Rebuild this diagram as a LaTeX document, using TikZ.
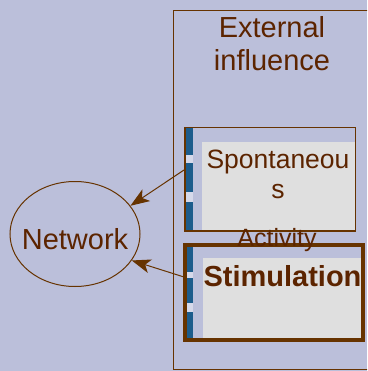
\documentclass[tikz,border=0pt]{standalone}
\usepackage{fontspec}
\setmainfont{Liberation Sans}
\usetikzlibrary{arrows.meta,shapes.geometric}
\definecolor{bg}{RGB}{187,191,218}
\definecolor{brn}{RGB}{102,51,0}
\definecolor{txt}{RGB}{92,36,0}
\definecolor{panel}{RGB}{223,223,223}
\definecolor{stripblue}{RGB}{28,92,140}
\definecolor{gapc}{RGB}{214,217,234}
\begin{document}
\begin{tikzpicture}[x=1pt,y=-1pt,
  lbl/.style={text=txt, inner sep=0pt, outer sep=0pt},
  boxframe/.style={draw=brn, inner sep=0pt, outer sep=0pt, anchor=north west},
  arr/.style={draw=brn, line width=1pt, -{Stealth[length=19pt,width=14pt,inset=5pt]}},
  seg/.style={fill=stripblue, draw=none},
  gapfill/.style={fill=gapc, draw=none},
  panelfill/.style={fill=panel, draw=none}]
\fill[bg] (0,0) rectangle (367,371);
\useasboundingbox (0,0) rectangle (367,371);
\clip (0,0) rectangle (367,371);
% outer frame
\node[boxframe, line width=1.3pt, minimum width=240pt, minimum height=359pt] (frame) at (173.6,10.6) {};
% Spontaneous box
\fill[panelfill] (202,142) rectangle (355,231);
\fill[gapfill] (185.3,128) rectangle (192.7,231);
\fill[seg] (185.3,128) rectangle (192.7,155);
\fill[seg] (185.3,163) rectangle (192.7,192);
\fill[seg] (185.3,202) rectangle (192.7,230.5);
\node[boxframe, line width=1.5pt, minimum width=170.6pt, minimum height=103.6pt] (spont) at (184.8,127.6) {};
% Stimulation box
\fill[panelfill] (202.7,258) rectangle (363,339);
\fill[gapfill] (186.7,247) rectangle (192.7,339);
\fill[seg] (186.7,247) rectangle (192.7,272);
\fill[seg] (186.7,278) rectangle (192.7,303);
\fill[seg] (186.7,312) rectangle (192.7,338.5);
\node[boxframe, line width=3.6pt, minimum width=178.4pt, minimum height=95.4pt] (stim) at (184.8,244.8) {};
% Network
\node[draw=brn, line width=1pt, ellipse, minimum width=130pt, minimum height=105pt, inner sep=0pt] (net) at (75,234) {};
\node[lbl, anchor=base, font=\fontsize{29}{33}\selectfont] (nettext) at (75,249) {Network};
% texts
\node[lbl, align=center, font=\fontsize{29}{33}\selectfont] (ext) at (272,43.5) {External\\influence};
\node[lbl, align=center, font=\fontsize{26.5}{30}\selectfont] (sptext) at (278,174) {Spontaneou\\s};
\node[lbl, anchor=base, font=\fontsize{25}{30}\selectfont] (act) at (277,246.7) {Activity};
\node[lbl, anchor=base, font=\bfseries\fontsize{29}{33}\selectfont] (stimtext) at (282.5,286.7) {Stimulation};
% connectors
\coordinate (a1) at (184,170);
\coordinate (a2) at (184,277);
\draw[arr] (a1) -- (net.27);
\draw[arr] (a2) -- (net.-25);
\end{tikzpicture}
\end{document}
